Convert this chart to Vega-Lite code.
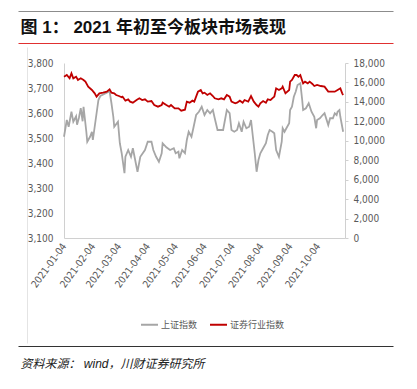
{
  "$schema": "https://vega.github.io/schema/vega-lite/v6.json",
  "width": 281,
  "height": 175,
  "autosize": "none",
  "padding": {"left": 64, "top": 63, "right": 72, "bottom": 151},
  "background": "white",
  "datasets": {
    "sh": [
      {"d":"2021-01-04","v":3505},{"d":"2021-01-07","v":3572},{"d":"2021-01-09","v":3545},{"d":"2021-01-12","v":3605},{"d":"2021-01-14","v":3565},{"d":"2021-01-17","v":3587},{"d":"2021-01-18","v":3553},{"d":"2021-01-20","v":3580},{"d":"2021-01-22","v":3619},{"d":"2021-01-24","v":3567},{"d":"2021-01-25","v":3625},{"d":"2021-01-28","v":3525},{"d":"2021-01-29","v":3485},
      {"d":"2021-02-01","v":3505},{"d":"2021-02-03","v":3525},{"d":"2021-02-04","v":3492},{"d":"2021-02-07","v":3572},{"d":"2021-02-10","v":3652},{"d":"2021-02-12","v":3668},{"d":"2021-02-19","v":3681},{"d":"2021-02-22","v":3687},{"d":"2021-02-24","v":3639},{"d":"2021-02-26","v":3585},{"d":"2021-02-27","v":3545},
      {"d":"2021-03-03","v":3565},{"d":"2021-03-05","v":3479},{"d":"2021-03-07","v":3439},{"d":"2021-03-10","v":3359},{"d":"2021-03-11","v":3425},{"d":"2021-03-14","v":3452},{"d":"2021-03-17","v":3425},{"d":"2021-03-19","v":3459},{"d":"2021-03-24","v":3365},{"d":"2021-03-27","v":3425},
      {"d":"2021-04-01","v":3452},{"d":"2021-04-04","v":3485},{"d":"2021-04-08","v":3485},{"d":"2021-04-10","v":3452},{"d":"2021-04-13","v":3425},{"d":"2021-04-16","v":3405},{"d":"2021-04-19","v":3439},{"d":"2021-04-20","v":3479},{"d":"2021-04-24","v":3463},{"d":"2021-04-28","v":3452},
      {"d":"2021-05-02","v":3459},{"d":"2021-05-04","v":3439},{"d":"2021-05-07","v":3445},{"d":"2021-05-08","v":3419},{"d":"2021-05-11","v":3452},{"d":"2021-05-14","v":3439},{"d":"2021-05-16","v":3492},{"d":"2021-05-18","v":3525},{"d":"2021-05-21","v":3505},{"d":"2021-05-23","v":3539},{"d":"2021-05-26","v":3592},{"d":"2021-05-29","v":3605},
      {"d":"2021-06-01","v":3625},{"d":"2021-06-04","v":3592},{"d":"2021-06-07","v":3612},{"d":"2021-06-10","v":3599},{"d":"2021-06-13","v":3612},{"d":"2021-06-15","v":3579},{"d":"2021-06-18","v":3532},{"d":"2021-06-21","v":3532},{"d":"2021-06-24","v":3532},{"d":"2021-06-26","v":3572},{"d":"2021-06-28","v":3612},
      {"d":"2021-07-01","v":3599},{"d":"2021-07-03","v":3532},{"d":"2021-07-06","v":3525},{"d":"2021-07-09","v":3532},{"d":"2021-07-11","v":3559},{"d":"2021-07-14","v":3525},{"d":"2021-07-16","v":3565},{"d":"2021-07-19","v":3539},{"d":"2021-07-22","v":3545},{"d":"2021-07-24","v":3572},{"d":"2021-07-26","v":3505},{"d":"2021-07-28","v":3439},{"d":"2021-07-30","v":3365},
      {"d":"2021-08-01","v":3412},{"d":"2021-08-03","v":3439},{"d":"2021-08-06","v":3459},{"d":"2021-08-09","v":3479},{"d":"2021-08-11","v":3512},{"d":"2021-08-13","v":3532},{"d":"2021-08-16","v":3525},{"d":"2021-08-18","v":3519},{"d":"2021-08-20","v":3452},{"d":"2021-08-23","v":3425},{"d":"2021-08-26","v":3485},{"d":"2021-08-27","v":3539},{"d":"2021-08-29","v":3525},{"d":"2021-08-31","v":3539},
      {"d":"2021-09-03","v":3559},{"d":"2021-09-04","v":3612},{"d":"2021-09-06","v":3625},{"d":"2021-09-08","v":3665},{"d":"2021-09-10","v":3685},{"d":"2021-09-12","v":3712},{"d":"2021-09-15","v":3719},{"d":"2021-09-17","v":3652},{"d":"2021-09-18","v":3612},{"d":"2021-09-21","v":3619},{"d":"2021-09-24","v":3639},{"d":"2021-09-27","v":3605},{"d":"2021-09-30","v":3585},
      {"d":"2021-10-02","v":3539},{"d":"2021-10-03","v":3572},{"d":"2021-10-06","v":3579},{"d":"2021-10-09","v":3592},{"d":"2021-10-11","v":3599},{"d":"2021-10-15","v":3552},{"d":"2021-10-17","v":3579},{"d":"2021-10-20","v":3579},{"d":"2021-10-22","v":3599},{"d":"2021-10-24","v":3592},{"d":"2021-10-25","v":3605},{"d":"2021-10-27","v":3612},{"d":"2021-10-28","v":3585},{"d":"2021-10-31","v":3525}
    ],
    "zq": [
      {"d":"2021-01-04","v":16590},{"d":"2021-01-07","v":16766},{"d":"2021-01-10","v":16423},{"d":"2021-01-12","v":16937},{"d":"2021-01-14","v":16423},{"d":"2021-01-17","v":16594},{"d":"2021-01-19","v":16251},{"d":"2021-01-22","v":16423},{"d":"2021-01-25","v":16251},{"d":"2021-01-27","v":16080},{"d":"2021-01-30","v":15566},
      {"d":"2021-02-03","v":15223},{"d":"2021-02-06","v":14880},{"d":"2021-02-08","v":14537},{"d":"2021-02-11","v":14880},{"d":"2021-02-15","v":14949},{"d":"2021-02-19","v":15052},{"d":"2021-02-22","v":15291},{"d":"2021-02-24","v":14949},{"d":"2021-02-27","v":14880},
      {"d":"2021-03-01","v":14709},{"d":"2021-03-04","v":14606},{"d":"2021-03-07","v":14469},{"d":"2021-03-08","v":14537},{"d":"2021-03-11","v":14126},{"d":"2021-03-14","v":14263},{"d":"2021-03-16","v":14023},{"d":"2021-03-19","v":13920},{"d":"2021-03-23","v":14194},{"d":"2021-03-26","v":14366},{"d":"2021-03-29","v":14194},
      {"d":"2021-04-01","v":14263},{"d":"2021-04-04","v":14023},{"d":"2021-04-08","v":14091},{"d":"2021-04-11","v":13680},{"d":"2021-04-15","v":13509},{"d":"2021-04-19","v":13680},{"d":"2021-04-20","v":13920},{"d":"2021-04-24","v":13680},{"d":"2021-04-27","v":13509},{"d":"2021-04-29","v":13680},
      {"d":"2021-05-03","v":13337},{"d":"2021-05-07","v":13337},{"d":"2021-05-10","v":13097},{"d":"2021-05-14","v":13200},{"d":"2021-05-16","v":14023},{"d":"2021-05-19","v":13920},{"d":"2021-05-22","v":14126},{"d":"2021-05-24","v":14023},{"d":"2021-05-28","v":15052},{"d":"2021-05-31","v":15223},
      {"d":"2021-06-02","v":14880},{"d":"2021-06-04","v":14949},{"d":"2021-06-07","v":14709},{"d":"2021-06-10","v":14880},{"d":"2021-06-13","v":14606},{"d":"2021-06-15","v":14366},{"d":"2021-06-19","v":14263},{"d":"2021-06-22","v":14366},{"d":"2021-06-25","v":14263},{"d":"2021-06-28","v":14709},
      {"d":"2021-07-01","v":14537},{"d":"2021-07-03","v":14023},{"d":"2021-07-07","v":13851},{"d":"2021-07-09","v":13920},{"d":"2021-07-12","v":14126},{"d":"2021-07-15","v":13920},{"d":"2021-07-17","v":14194},{"d":"2021-07-21","v":14023},{"d":"2021-07-24","v":14606},{"d":"2021-07-27","v":14023},{"d":"2021-07-30","v":13680},
      {"d":"2021-08-01","v":13509},{"d":"2021-08-03","v":13851},{"d":"2021-08-06","v":14091},{"d":"2021-08-09","v":13920},{"d":"2021-08-11","v":14263},{"d":"2021-08-14","v":14194},{"d":"2021-08-17","v":14469},{"d":"2021-08-18","v":14537},{"d":"2021-08-20","v":15394},{"d":"2021-08-23","v":15223},{"d":"2021-08-26","v":15394},{"d":"2021-08-27","v":15566},{"d":"2021-08-30","v":14880},
      {"d":"2021-09-03","v":15223},{"d":"2021-09-04","v":16080},{"d":"2021-09-06","v":16251},{"d":"2021-09-09","v":16766},{"d":"2021-09-11","v":16766},{"d":"2021-09-13","v":16594},{"d":"2021-09-15","v":16766},{"d":"2021-09-17","v":16183},{"d":"2021-09-18","v":15909},{"d":"2021-09-20","v":16080},{"d":"2021-09-23","v":15909},{"d":"2021-09-25","v":16080},{"d":"2021-09-28","v":15840},{"d":"2021-09-30","v":15634},
      {"d":"2021-10-03","v":15737},{"d":"2021-10-07","v":15634},{"d":"2021-10-11","v":15566},{"d":"2021-10-15","v":15052},{"d":"2021-10-18","v":15052},{"d":"2021-10-22","v":15052},{"d":"2021-10-25","v":15223},{"d":"2021-10-28","v":15394},{"d":"2021-10-30","v":14880},{"d":"2021-10-31","v":14709}
    ]
  },
  "layer": [
    {
      "data": {"name": "sh"},
      "mark": {"type": "line", "strokeWidth": 1.8, "interpolate": "linear"},
      "encoding": {
        "x": {
          "field": "d", "type": "temporal",
          "scale": {"type": "utc", "domain": [{"year":2021,"month":1,"date":4,"utc":true},{"year":2021,"month":11,"date":2,"utc":true}], "nice": false},
          "axis": {
            "orient": "bottom", "title": null,
            "labelExpr": "utcFormat(datum.value, '%Y-%m-%d')",
            "values": [
              {"year":2021,"month":1,"date":4,"utc":true},{"year":2021,"month":2,"date":4,"utc":true},{"year":2021,"month":3,"date":4,"utc":true},{"year":2021,"month":4,"date":4,"utc":true},{"year":2021,"month":5,"date":4,"utc":true},{"year":2021,"month":6,"date":4,"utc":true},{"year":2021,"month":7,"date":4,"utc":true},{"year":2021,"month":8,"date":4,"utc":true},{"year":2021,"month":9,"date":4,"utc":true},{"year":2021,"month":10,"date":4,"utc":true}
            ],
            "labelAngle": -54, "labelAlign": "right", "labelBaseline": "middle", "labelPadding": 6,
            "ticks": false, "grid": false, "domain": true, "domainColor": "#d0d0d0", "labelColor": "#595959",
            "labelFontSize": 10, "labelFont": "Liberation Sans Narrow, DejaVu Sans Condensed, Liberation Sans", "labelOverlap": false, "labelFlush": false
          }
        },
        "y": {
          "field": "v", "type": "quantitative",
          "scale": {"domain": [3100, 3800], "nice": false, "zero": false},
          "axis": {
            "orient": "left", "title": null, "values": [3100,3200,3300,3400,3500,3600,3700,3800], "format": ",d",
            "ticks": false, "grid": false, "domain": true, "domainColor": "#d0d0d0", "labelColor": "#595959", "labelPadding": 11,
            "labelFontSize": 10, "labelFont": "Liberation Sans Narrow, DejaVu Sans Condensed, Liberation Sans"
          }
        },
        "color": {"datum": "上证指数", "type": "nominal"}
      }
    },
    {
      "data": {"name": "zq"},
      "mark": {"type": "line", "strokeWidth": 1.8, "interpolate": "linear"},
      "encoding": {
        "x": {
          "field": "d", "type": "temporal",
          "scale": {"type": "utc", "domain": [{"year":2021,"month":1,"date":4,"utc":true},{"year":2021,"month":11,"date":2,"utc":true}], "nice": false},
          "axis": null
        },
        "y": {
          "field": "v", "type": "quantitative",
          "scale": {"domain": [0, 18000], "nice": false},
          "axis": {
            "orient": "right", "title": null, "values": [0,2000,4000,6000,8000,10000,12000,14000,16000,18000], "format": ",d",
            "ticks": true, "tickSize": 3, "tickColor": "#d0d0d0", "grid": false, "domain": true, "domainColor": "#d0d0d0", "labelColor": "#595959", "labelPadding": 5,
            "labelFontSize": 10, "labelFont": "Liberation Sans Narrow, DejaVu Sans Condensed, Liberation Sans"
          }
        },
        "color": {"datum": "证券行业指数", "type": "nominal"}
      }
    },
    {
      "data": {"name": "sh"},
      "mark": {"type": "point", "opacity": 0},
      "encoding": {
        "x": {
          "field": "d", "type": "temporal",
          "scale": {"type": "utc", "range": [-46, 329], "nice": false},
          "axis": {
            "orient": "top", "offset": 20, "labels": true, "labelExpr": "''", "ticks": true, "tickSize": 0, "grid": false, "domain": true,
            "domainColor": "#e03030", "domainWidth": 1,
            "title": "图 1： 2021 年初至今板块市场表现", "titleX": -44, "titleY": -11, "titleAlign": "left", "titleBaseline": "alphabetic", "titleAngle": 0,
            "titleFont": "Liberation Sans, Noto Sans CJK SC", "titleFontSize": 17, "titleFontWeight": "bold", "titleColor": "#111111"
          }
        }
      }
    },
    {
      "data": {"name": "sh"},
      "mark": {"type": "point", "opacity": 0},
      "encoding": {
        "x": {
          "field": "d", "type": "temporal",
          "scale": {"type": "utc", "range": [-46, 329], "nice": false},
          "axis": {"orient": "top", "offset": 52, "labels": true, "labelExpr": "''", "ticks": true, "tickSize": 0, "grid": false, "title": null, "domain": true, "domainColor": "#8c8c8c", "domainWidth": 1.2}
        },
        "y": {
          "field": "v", "type": "quantitative",
          "scale": {"range": [280, -16], "zero": false},
          "axis": {"orient": "left", "offset": 37, "labels": true, "labelExpr": "''", "ticks": true, "tickSize": 0, "grid": false, "title": null, "domain": true, "domainColor": "#e4e4e4"}
        }
      }
    },
    {
      "data": {"name": "sh"},
      "mark": {"type": "point", "opacity": 0},
      "encoding": {
        "x": {
          "field": "d", "type": "temporal",
          "scale": {"type": "utc", "range": [-46, 329], "nice": false},
          "axis": {
            "orient": "bottom", "offset": 108, "labels": true, "labelExpr": "''", "ticks": true, "tickSize": 0, "grid": false, "domain": true,
            "domainColor": "#333333", "domainWidth": 1,
            "title": "资料来源： wind，川财证券研究所", "titleX": -44, "titleY": 21, "titleAlign": "left", "titleBaseline": "alphabetic", "titleAngle": 0,
            "titleFont": "Liberation Sans, Noto Sans CJK SC", "titleFontSize": 12, "titleFontWeight": "normal", "titleFontStyle": "italic", "titleColor": "#222222"
          }
        }
      }
    }
  ],
  "resolve": {"scale": {"x": "independent", "y": "independent"}, "axis": {"x": "independent", "y": "independent"}},
  "config": {
    "view": {"stroke": null},
    "range": {"category": ["#a6a6a6", "#c00000"]},
    "legend": {
      "orient": "none", "legendX": 76, "legendY": 252, "direction": "horizontal", "title": null,
      "symbolType": "stroke", "symbolSize": 289, "symbolStrokeWidth": 2, "labelFontSize": 9, "labelOffset": 2,
      "columnPadding": 8, "labelColor": "#595959", "labelFont": "Noto Sans CJK SC"
    }
  }
}
